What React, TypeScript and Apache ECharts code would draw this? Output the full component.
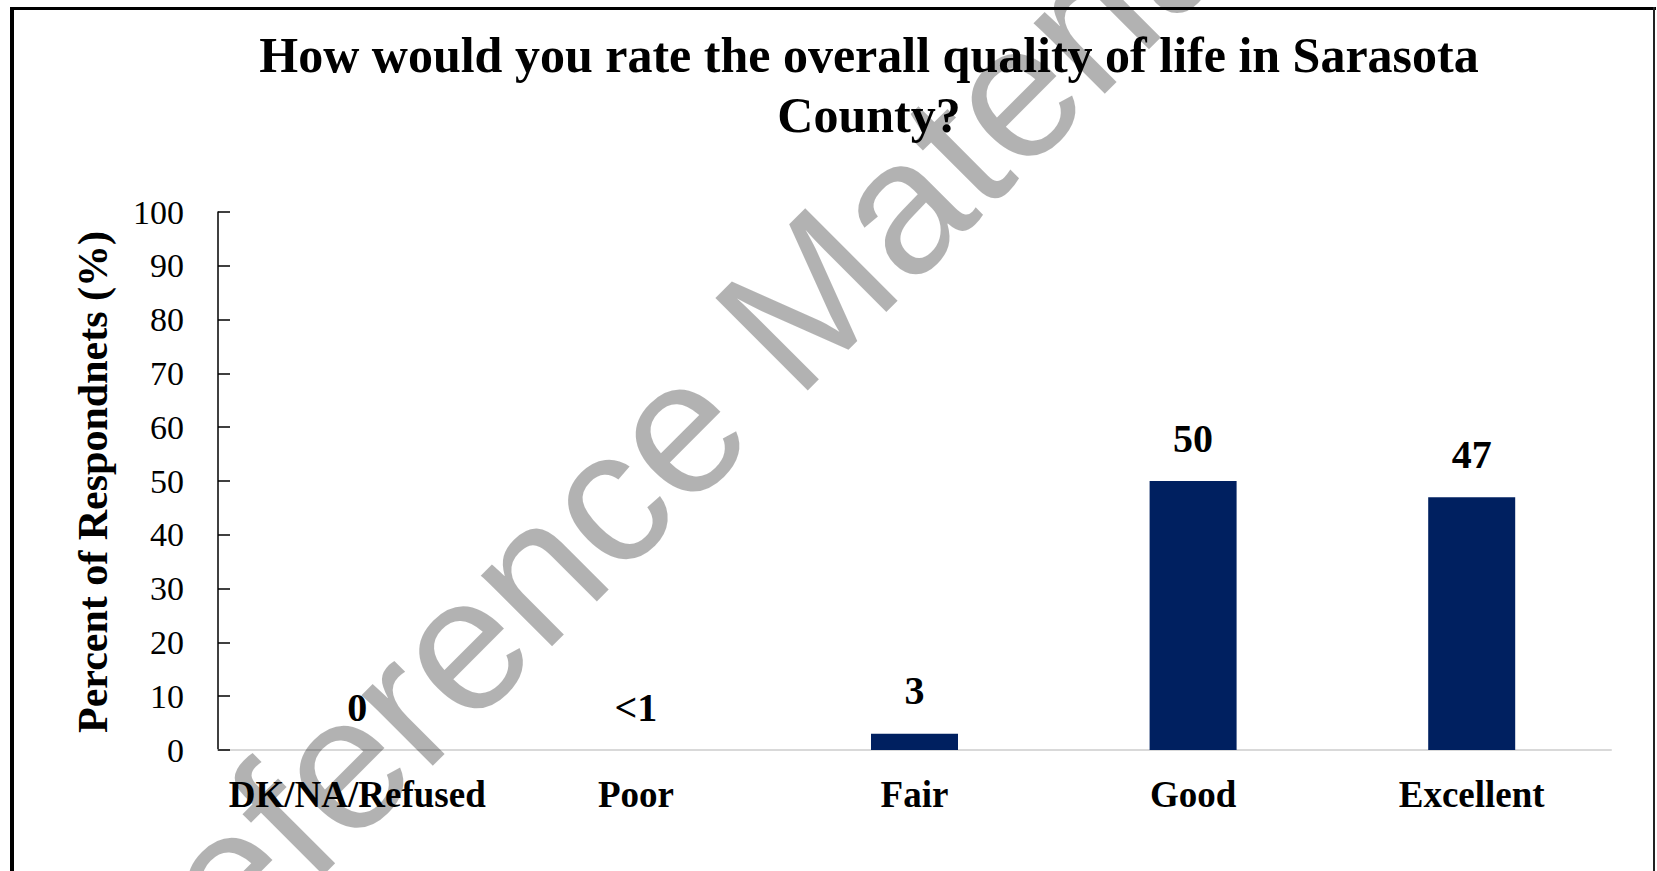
import React, { useEffect, useRef } from "react";
import * as echarts from "echarts";

const titleLines = ["How would you rate the overall quality of life in Sarasota", "County?"];
const categories = ["DK/NA/Refused", "Poor", "Fair", "Good", "Excellent"];
const values = [0, 0, 3, 50, 47];
const valueLabels = ["0", "<1", "3", "50", "47"];
const yAxisTitle = "Percent of Respondnets (%)";
const yMin = 0;
const yMax = 100;
const yInterval = 10;
const watermark = "Reference Material";

const SERIF = "'Liberation Serif', 'Times New Roman', serif";

export default function App() {
  const ref = useRef<HTMLDivElement>(null);
  useEffect(() => {
    if (!ref.current) return;
    const chart = echarts.init(ref.current, null, { renderer: "svg" });
    const angle = (45 * Math.PI) / 180;
    chart.setOption({
      animation: false,
      backgroundColor: "#ffffff",
      grid: { left: 218, right: 46, top: 212, bottom: 121, containLabel: false },
      xAxis: {
        type: "category",
        data: categories,
        boundaryGap: true,
        axisLine: { show: true, lineStyle: { color: "#d9d9d9", width: 2 } },
        axisTick: { show: false },
        axisLabel: {
          interval: 0,
          margin: 26,
          color: "#000",
          fontFamily: SERIF,
          fontWeight: "bold",
          fontSize: 37,
        },
      },
      yAxis: {
        type: "value",
        min: yMin,
        max: yMax,
        interval: yInterval,
        splitLine: { show: false },
        axisLine: { show: true, lineStyle: { color: "#000", width: 1.5 } },
        axisTick: { show: true, inside: true, length: 12, lineStyle: { color: "#000", width: 1.5 } },
        axisLabel: { margin: 34, color: "#000", fontFamily: SERIF, fontSize: 34 },
      },
      series: [
        {
          type: "bar",
          data: values,
          barWidth: 87,
          itemStyle: { color: "#002060" },
          label: {
            show: true,
            position: "top",
            distance: 23,
            color: "#000",
            fontFamily: SERIF,
            fontWeight: "bold",
            fontSize: 40,
            formatter: (p: any) => valueLabels[p.dataIndex],
          },
        },
      ],
      graphic: [
        {
          type: "text",
          x: 869,
          y: 25,
          z: 10,
          style: {
            text: titleLines.join("\n"),
            textAlign: "center",
            textVerticalAlign: "top",
            fontFamily: SERIF,
            fontWeight: "bold",
            fontSize: 50,
            lineHeight: 60,
            fill: "#000",
          },
        },
        {
          type: "text",
          x: 93,
          y: 482,
          rotation: Math.PI / 2,
          z: 10,
          style: {
            text: yAxisTitle,
            textAlign: "center",
            textVerticalAlign: "middle",
            fontFamily: SERIF,
            fontWeight: "bold",
            fontSize: 42,
            fill: "#000",
          },
        },
        {
          type: "line",
          z: 20,
          shape: { x1: 10, y1: 8.5, x2: 1656, y2: 8.5 },
          style: { stroke: "#000", lineWidth: 3 },
        },
        {
          type: "line",
          z: 20,
          shape: { x1: 12, y1: 7, x2: 12, y2: 871 },
          style: { stroke: "#000", lineWidth: 4 },
        },
        {
          type: "line",
          z: 20,
          shape: { x1: 1654, y1: 7, x2: 1654, y2: 871 },
          style: { stroke: "#222", lineWidth: 2 },
        },
        {
          type: "text",
          x: 93,
          y: 1012,
          rotation: angle,
          z: 30,
          silent: true,
          style: {
            text: watermark,
            textAlign: "left",
            textVerticalAlign: "middle",
            fontFamily: "'Liberation Sans', Arial, sans-serif",
            fontSize: 190,
            fill: "rgba(0,0,0,0.3)",
          },
        },
      ],
    });
    return () => chart.dispose();
  }, []);
  return (
    <div
      ref={ref}
      style={{ position: "fixed", left: 0, top: 0, width: 1657, height: 871 }}
    />
  );
}
